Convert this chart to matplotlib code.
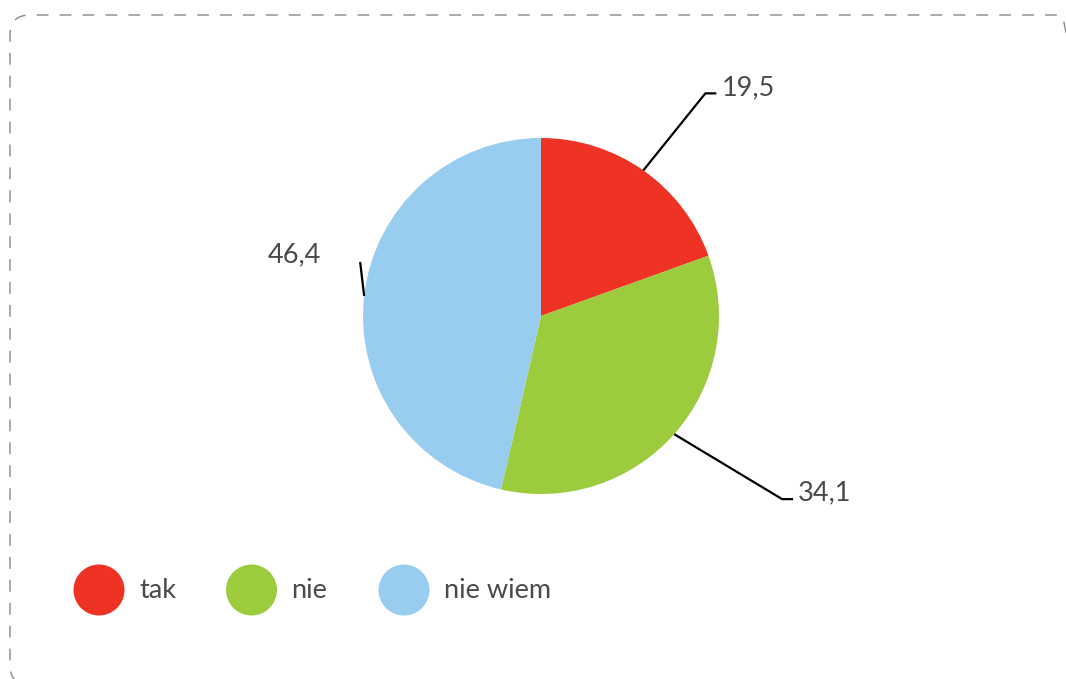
import matplotlib.pyplot as plt
import numpy as np
from matplotlib.patches import FancyBboxPatch, Circle

# chart data
categories = ['tak', 'nie', 'nie wiem']
values = [19.5, 34.1, 46.4]
value_labels = ['19,5', '34,1', '46,4']
colors = ['#EE3324', '#9DCB3E', '#99CDEF']

W, H = 1066, 679
fig = plt.figure(figsize=(W / 100, H / 100), dpi=100)
ax = fig.add_axes([0, 0, 1, 1])

# pie in pixel coordinates (y measured from bottom)
cx, cy, r = 541, H - 316, 178
wedges, _ = ax.pie(values, colors=colors, startangle=90, counterclock=False,
                   radius=r, center=(cx, cy),
                   wedgeprops=dict(linewidth=0))
ax.set_xlim(0, W)
ax.set_ylim(0, H)
ax.set_aspect('auto')
ax.axis('off')

text_color = '#4a4a4a'
font = dict(family='Lato', fontweight='normal', color=text_color)

# leader lines: (elbow dx, elbow dy, tail length)
leaders = [(62, 77, 11), (108, -65, 11), (-4, 34, 0)]
for w, lab, (dx, dy, tail) in zip(wedges, value_labels, leaders):
    ang = np.deg2rad((w.theta1 + w.theta2) / 2)
    x0 = cx + r * np.cos(ang)
    y0 = cy + r * np.sin(ang)
    x1, y1 = x0 + dx, y0 + dy
    if tail > 0:
        ax.plot([x0, x1, x1 + tail], [y0, y1, y1], color='black', lw=1.6,
                solid_capstyle='butt')
        ax.text(x1 + tail + 5, y1 + 6, lab, fontsize=19.5, va='center', ha='left', **font)
    else:
        ax.plot([x0, x1], [y0, y1], color='black', lw=1.6, solid_capstyle='butt')
        ax.text(x1 - 39, y1 + 7, lab, fontsize=19.5, va='center', ha='right', **font)

# legend
for i, (cat, col) in enumerate(zip(categories, colors)):
    lx = 99 + i * 152.5
    ly = H - 590
    ax.add_patch(Circle((lx, ly), 25.5, color=col, lw=0))
    ax.text(lx + 40, ly - 1, cat, fontsize=19.5, va='center', ha='left', **font)

# dashed rounded frame
frame = FancyBboxPatch((10, H - 685), 1070, 670,
                       boxstyle='round,pad=0,rounding_size=20',
                       fill=False, edgecolor='#888888', lw=1.0,
                       linestyle=(0, (8.5, 8)))
ax.add_patch(frame)

fig.savefig('out.png', dpi=100)
